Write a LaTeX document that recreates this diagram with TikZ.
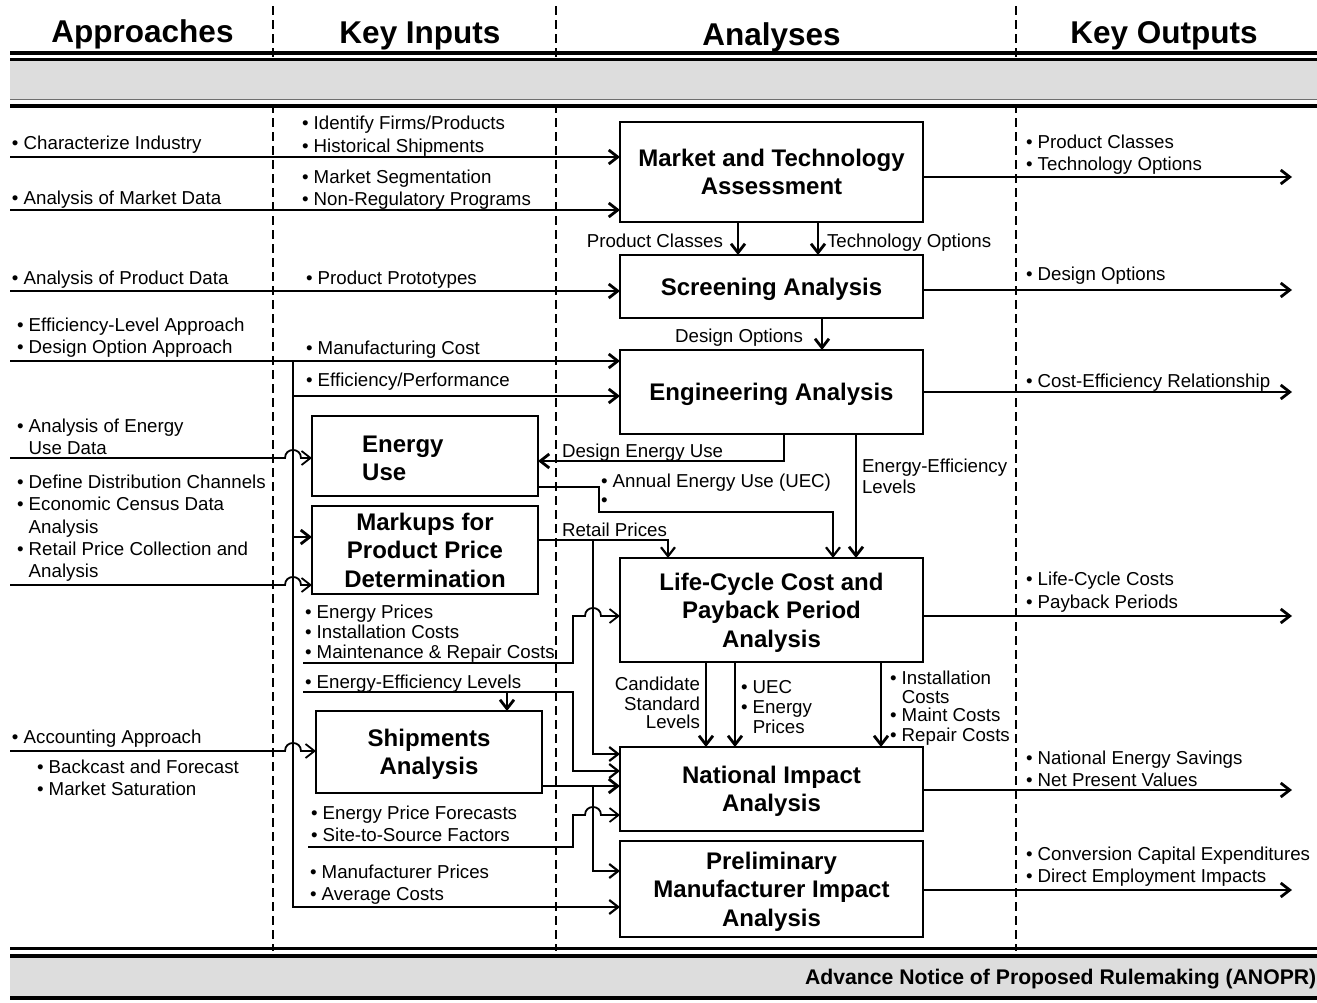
\documentclass[tikz,border=0pt]{standalone}
\usepackage{fontspec}
\setmainfont{Liberation Sans}
\usetikzlibrary{arrows.meta}
\definecolor{bandgray}{RGB}{221,221,221}
\definecolor{linegray}{RGB}{110,110,110}
\newcommand{\bodyf}{\fontsize{18.7}{22}\selectfont}
\newcommand{\titlef}{\fontsize{24}{28.5}\selectfont\bfseries}
\newcommand{\headf}{\fontsize{31.5}{36}\selectfont\bfseries}
\newcommand{\mybul}{\textbullet\ }
\newcommand{\myind}{\hphantom{\textbullet\ }}
\begin{document}
\begin{tikzpicture}[x=1pt,y=-1pt,
  box/.style={draw,line width=2pt,inner sep=0pt,outer sep=0pt,font=\titlef,align=center,text depth=0pt},
  lbl/.style={anchor=base west,inner sep=0pt,outer sep=0pt,font=\bodyf},
  lble/.style={anchor=base east,inner sep=0pt,outer sep=0pt,font=\bodyf},
  head/.style={anchor=base,inner sep=0pt,outer sep=0pt,font=\headf},
  thk/.style={line width=2.8pt},
  midl/.style={line width=2.2pt},
  thn/.style={line width=1.8pt},
  arr/.style={-{Straight Barb[length=9pt,width=14pt]}},
  sepline/.style={dash pattern=on 9pt off 5pt,line width=2.3pt}
]
\useasboundingbox (0,0) rectangle (1317,1002);

% column separators
\coordinate (d1t) at (273,6);  \coordinate (d1b) at (273,951);
\coordinate (d2t) at (556,6);  \coordinate (d2b) at (556,951);
\coordinate (d3t) at (1016,6); \coordinate (d3b) at (1016,951);
\draw[sepline] (d1t) -- (d1b);
\draw[sepline] (d2t) -- (d2b);
\draw[sepline] (d3t) -- (d3b);

% top band
\fill[bandgray] (10,60) rectangle (1317,99);
\draw[line width=3.5pt] (10,53) -- (1317,53);
\draw[line width=2.5pt] (10,59.5) -- (1317,59.5);
\draw[line width=1.5pt,draw=linegray] (10,99.5) -- (1317,99.5);
\draw[line width=4pt] (10,106) -- (1317,106);

% bottom band
\fill[bandgray] (10,957) rectangle (1317,996);
\draw[line width=3pt] (10,948.5) -- (1317,948.5);
\draw[line width=4pt] (10,956) -- (1317,956);
\draw[line width=4pt] (10,997.5) -- (1317,997.5);
\node[anchor=base east,inner sep=0pt,font=\fontsize{21.2}{24}\selectfont\bfseries] (anopr) at (1316.5,984) {Advance Notice of Proposed Rulemaking (ANOPR)};

% headings
\node[head] (h1) at (142.5,42.5) {Approaches};
\node[head] (h2) at (420,43) {Key Inputs};
\node[head] (h3) at (771.5,45.5) {Analyses};
\node[head] (h4) at (1164,43) {Key Outputs};

% boxes
\node[box,minimum width=303pt,minimum height=100pt] (mta) at (771.5,172) {Market and Technology\\Assessment};
\node[box,minimum width=303pt,minimum height=63pt] (scr) at (771.5,286.5) {Screening Analysis};
\node[box,minimum width=303pt,minimum height=84pt] (eng) at (771.5,392) {Engineering Analysis};
\node[box,minimum width=226pt,minimum height=80pt] (eu) at (425,456) {};
\node[anchor=west,inner sep=0pt,font=\titlef,align=left,text depth=0pt] (eut) at (362,458) {Energy\\Use};
\node[box,minimum width=226pt,minimum height=88pt] (mk) at (425,550) {Markups for\\Product Price\\Determination};
\node[box,minimum width=303pt,minimum height=104pt] (lcc) at (771.5,610) {Life-Cycle Cost and\\Payback Period\\Analysis};
\node[box,minimum width=226pt,minimum height=82pt] (sh) at (429,752) {Shipments\\Analysis};
\node[box,minimum width=303pt,minimum height=84pt] (nia) at (771.5,789) {National Impact\\Analysis};
\node[box,minimum width=303pt,minimum height=96pt] (pmia) at (771.5,889) {Preliminary\\Manufacturer Impact\\Analysis};

% approaches labels
\node[lbl] (a1) at (12,149.5) {\mybul Characterize Industry};
\node[lbl] (a2) at (12,204.5) {\mybul Analysis of Market Data};
\node[lbl] (a3) at (12,284.5) {\mybul Analysis of Product Data};
\node[lbl] (a4) at (17,331) {\mybul Efficiency-Level Approach};
\node[lbl] (a5) at (17,353.5) {\mybul Design Option Approach};
\node[lbl] (a6) at (17,432.5) {\mybul Analysis of Energy};
\node[lbl] (a7) at (17,454) {\myind Use Data};
\node[lbl] (a8) at (17,488) {\mybul Define Distribution Channels};
\node[lbl] (a9) at (17,510.5) {\mybul Economic Census Data};
\node[lbl] (a10) at (17,533) {\myind Analysis};
\node[lbl] (a11) at (17,555) {\mybul Retail Price Collection and};
\node[lbl] (a12) at (17,577) {\myind Analysis};
\node[lbl] (a13) at (12,743.5) {\mybul Accounting Approach};
\node[lbl] (a14) at (37,773.5) {\mybul Backcast and Forecast};
\node[lbl] (a15) at (37,795.5) {\mybul Market Saturation};

% key inputs labels
\node[lbl] (k1) at (302,129.5) {\mybul Identify Firms/Products};
\node[lbl] (k2) at (302,152) {\mybul Historical Shipments};
\node[lbl] (k3) at (302,183) {\mybul Market Segmentation};
\node[lbl] (k4) at (302,205.5) {\mybul Non-Regulatory Programs};
\node[lbl] (k5) at (306,284) {\mybul Product Prototypes};
\node[lbl] (k6) at (306,354.5) {\mybul Manufacturing Cost};
\node[lbl] (k7) at (306,386.5) {\mybul Efficiency/Performance};
\node[lbl] (k8) at (305,618) {\mybul Energy Prices};
\node[lbl] (k9) at (305,638.5) {\mybul Installation Costs};
\node[lbl] (k10) at (305,658) {\mybul Maintenance \& Repair Costs};
\node[lbl] (k11) at (305,688) {\mybul Energy-Efficiency Levels};
\node[lbl] (k12) at (311,819.5) {\mybul Energy Price Forecasts};
\node[lbl] (k13) at (311,841.5) {\mybul Site-to-Source Factors};
\node[lbl] (k14) at (310,878) {\mybul Manufacturer Prices};
\node[lbl] (k15) at (310,900) {\mybul Average Costs};

% analyses labels
\node[lble] (n1) at (723,247.5) {Product Classes};
\node[lbl] (n2) at (827,247.5) {Technology Options};
\node[lble] (n3) at (803,342) {Design Options};
\node[lbl] (n4) at (562,457.5) {Design Energy Use};
\node[lbl] (n5) at (601,487.5) {\mybul Annual Energy Use (UEC)};
\node[lbl] (n6) at (601,506.5) {\textbullet};
\node[lbl] (n7) at (862,472) {Energy-Efficiency};
\node[lbl] (n8) at (862,493.5) {Levels};
\node[lbl] (n9) at (562,536.5) {Retail Prices};
\node[lble] (n10) at (700,690.5) {Candidate};
\node[lble] (n11) at (700,710.5) {Standard};
\node[lble] (n12) at (700,728.5) {Levels};
\node[lbl] (n13) at (741,693) {\mybul UEC};
\node[lbl] (n14) at (741,713.5) {\mybul Energy};
\node[lbl] (n15) at (741,733.5) {\myind Prices};
\node[lbl] (n16) at (890,684.5) {\mybul Installation};
\node[lbl] (n17) at (890,703.5) {\myind Costs};
\node[lbl] (n18) at (890,721.5) {\mybul Maint Costs};
\node[lbl] (n19) at (890,741.5) {\mybul Repair Costs};

% key outputs labels
\node[lbl] (o1t) at (1026,148) {\mybul Product Classes};
\node[lbl] (o2t) at (1026,170) {\mybul Technology Options};
\node[lbl] (o3t) at (1026,280) {\mybul Design Options};
\node[lbl] (o4t) at (1026,387) {\mybul Cost-Efficiency Relationship};
\node[lbl] (o5t) at (1026,585) {\mybul Life-Cycle Costs};
\node[lbl] (o6t) at (1026,608) {\mybul Payback Periods};
\node[lbl] (o7t) at (1026,764) {\mybul National Energy Savings};
\node[lbl] (o8t) at (1026,786) {\mybul Net Present Values};
\node[lbl] (o9t) at (1026,860) {\mybul Conversion Capital Expenditures};
\node[lbl] (o10t) at (1026,882) {\mybul Direct Employment Impacts};

% input connectors
\coordinate (s1) at (10,157);
\coordinate (s2) at (10,210);
\coordinate (s3) at (10,291);
\coordinate (s4) at (10,361);
\coordinate (s5) at (10,458);
\coordinate (s6) at (10,585);
\coordinate (s7) at (10,751);
\draw[thk,arr] (s1) -- (mta.west |- s1);
\draw[thk,arr] (s2) -- (mta.west |- s2);
\draw[thk,arr] (s3) -- (scr.west |- s3);
\draw[thk,arr] (s4) -- (eng.west |- s4);
\coordinate (v0) at (293,361);
\coordinate (v1) at (293,907);
\draw[midl,arr] (v0) |- (pmia.west |- v1);
\coordinate (b1) at (293,396);
\coordinate (b2) at (293,537);
\draw[thk,arr] (b1) -- (eng.west |- b1);
\draw[thk,arr] (b2) -- (mk.west |- b2);
\draw[thn,arr] (s5) -- (285,458) .. controls (285,447.3) and (301,447.3) .. (301,458) -- (eu.west |- s5);
\draw[thn,arr] (s6) -- (285,585) .. controls (285,574.3) and (301,574.3) .. (301,585) -- (mk.west |- s6);
\draw[thn,arr] (s7) -- (285,751) .. controls (285,740.3) and (301,740.3) .. (301,751) -- (sh.west |- s7);

% output connectors
\coordinate (e1) at (1292,177);
\coordinate (e2) at (1292,290);
\coordinate (e3) at (1292,392);
\coordinate (e4) at (1292,616);
\coordinate (e5) at (1292,790);
\coordinate (e6) at (1292,890);
\draw[thk,arr] (mta.east |- e1) -- (e1);
\draw[thk,arr] (scr.east |- e2) -- (e2);
\draw[thk,arr] (eng.east |- e3) -- (e3);
\draw[thk,arr] (lcc.east |- e4) -- (e4);
\draw[thk,arr] (nia.east |- e5) -- (e5);
\draw[thk,arr] (pmia.east |- e6) -- (e6);

% analysis connectors
\draw[thk,arr] (mta.south -| 738,0) -- (scr.north -| 738,0);
\draw[thk,arr] (mta.south -| 818,0) -- (scr.north -| 818,0);
\draw[thk,arr] (scr.south -| 822,0) -- (eng.north -| 822,0);
\draw[thk,arr] (eng.south -| 784,0) |- (eu.east |- 0,461);
\draw[thk,arr] (eng.south -| 856,0) -- (lcc.north -| 856,0);
\draw[midl,arr] (eu.east |- 0,487) -| (599,512) -| (lcc.north -| 833,0);
\draw[midl,arr] (mk.east |- 0,540) -| (lcc.north -| 668,0);
\coordinate (r0) at (593,540);
\draw[midl,arr] (r0) |- (nia.west |- 0,754);
\coordinate (m0) at (303,663);
\draw[thn,arr] (m0) -| (573,616) -- (585,616) .. controls (585,605.3) and (601,605.3) .. (601,616) -- (lcc.west |- 0,616);
\coordinate (q0) at (303,692);
\draw[midl,arr] (q0) -| (573,771) -- (nia.west |- 0,771);
\draw[thk,arr] (507,692) -- (sh.north -| 507,0);
\draw[thk,arr] (sh.east |- 0,786) -- (nia.west |- 0,786);
\coordinate (j0) at (593,786);
\draw[midl,arr] (j0) |- (pmia.west |- 0,871);
\coordinate (t0) at (308,847);
\draw[thn,arr] (t0) -| (573,815) -- (585,815) .. controls (585,804.3) and (601,804.3) .. (601,815) -- (nia.west |- 0,815);
\draw[thk,arr] (lcc.south -| 706,0) -- (nia.north -| 706,0);
\draw[thk,arr] (lcc.south -| 735,0) -- (nia.north -| 735,0);
\draw[thk,arr] (lcc.south -| 881,0) -- (nia.north -| 881,0);
\end{tikzpicture}
\end{document}
